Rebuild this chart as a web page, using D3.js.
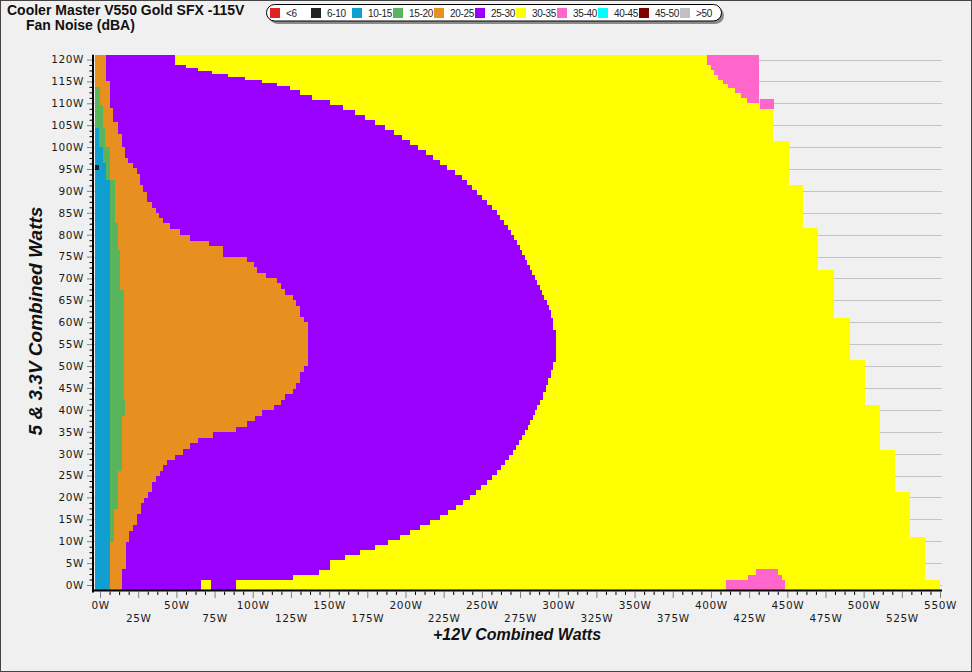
<!DOCTYPE html>
<html><head><meta charset="utf-8">
<script src="https://cdn.jsdelivr.net/npm/d3@7"></script>
<style>body{margin:0;background:#f0f0f0} svg{display:block}</style>
</head><body><svg id="c" width="972" height="672"></svg>
<script>
// ---- DATA (watts) ----
const legendLabels = ["<6","6-10","10-15","15-20","20-25","25-30","30-35","35-40","40-45","45-50",">50"];
const legendColors = ["#dd2323","#222222","#109fd0","#58b55c","#e8901f","#9900ff","#ffff00","#ff66cc","#00ffff","#800000","#c0c0c0"];
const xTicks = d3.range(0, 551, 25);
const yTicks = d3.range(0, 121, 5);
const xMinData = -3.3;
// [yLow, yHigh, xRight]  extent of 30-35 dBA region (outer edge of measured area)
const band3035 = [
[110.9,121.1,431.5],[101.3,110.9,440.6],[91.3,101.3,451.1],[81.5,91.3,460.3],[71.9,81.5,470.1],
[61.0,71.9,480.6],[51.3,61.0,491.1],[41.1,51.3,500.9],[30.8,41.1,510.7],[21.2,30.8,520.5],
[10.9,21.2,530.3],[1.1,10.9,540.2],[-1.14,1.1,550.0]];
// 25-30 dBA right boundary
const band2530 = [
[118.8,121.1,49.1],[118.1,118.8,56.3],[117.4,118.1,64.2],[116.7,117.4,73.3],[116.0,116.7,83.8],
[115.3,116.0,94.9],[114.6,115.3,106.1],[114.0,114.6,115.9],[113.0,114.0,124.4],[111.9,113.0,130.9],
[110.8,111.9,138.8],[109.6,110.8,150.6],[108.5,109.6,159.1],[107.3,108.5,167.0],[106.2,107.3,173.5],
[105.0,106.2,180.1],[103.9,105.0,186.6],[102.8,103.9,192.5],[101.6,102.8,197.7],[100.5,101.6,203.0],
[99.3,100.5,208.2],[98.2,99.3,213.4],[97.1,98.2,218.0],[95.9,97.1,222.6],[94.8,95.9,227.2],
[93.6,94.8,232.4],[92.5,93.6,237.0],[91.3,92.5,240.3],[90.2,91.3,243.6],[89.1,90.2,246.8],
[87.9,89.1,250.1],[86.8,87.9,253.4],[85.6,86.8,256.7],[84.5,85.6,259.9],[83.4,84.5,261.9],
[82.2,83.4,264.5],[81.1,82.2,267.1],[79.9,81.1,269.1],[78.8,79.9,271.1],[77.6,78.8,273.0],
[76.5,77.6,275.0],[75.4,76.5,276.3],[74.2,75.4,278.3],[73.1,74.2,279.6],[71.9,73.1,281.5],
[70.8,71.9,282.9],[69.6,70.8,284.8],[68.5,69.6,286.1],[67.4,68.5,288.1],[66.2,67.4,289.4],
[65.1,66.2,290.7],[63.9,65.1,292.7],[62.8,63.9,294.0],[61.0,62.8,295.3],[58.2,61.0,296.6],
[50.9,58.2,298.6],[49.1,50.9,296.6],[47.3,49.1,295.3],[45.7,47.3,293.3],[44.1,45.7,292.0],
[42.2,44.1,290.1],[41.1,42.2,288.1],[40.0,41.1,286.1],[38.8,40.0,284.8],[37.7,38.8,283.5],
[36.5,37.7,281.5],[35.4,36.5,280.2],[34.3,35.4,278.3],[33.1,34.3,276.3],[32.0,33.1,274.3],
[30.8,32.0,272.4],[29.7,30.8,270.4],[28.5,29.7,267.8],[27.4,28.5,265.2],[26.3,27.4,262.6],
[25.1,26.3,259.9],[24.0,25.1,256.7],[22.8,24.0,253.4],[21.7,22.8,249.5],[20.6,21.7,246.2],
[19.4,20.6,242.3],[18.3,19.4,237.7],[17.1,18.3,233.1],[16.0,17.1,227.9],[14.8,16.0,222.6],
[13.7,14.8,216.1],[12.6,13.7,209.5],[11.4,12.6,203.0],[10.3,11.4,196.4],[9.1,10.3,188.6],
[8.0,9.1,180.1],[6.9,8.0,170.2],[5.7,6.9,160.4],[3.4,5.7,150.6],[2.3,3.4,143.4],
[1.1,2.3,126.4],[-1.14,1.1,89.0]];
// 20-25 dBA right boundary
const band2025 = [
[115.1,121.1,3.7],[108.9,115.1,6.5],[105.8,108.9,8.7],[103.1,105.8,11.6],[100.1,103.1,14.2],
[97.4,100.1,16.4],[96.3,97.4,18.5],[95.2,96.3,21.4],[93.9,95.2,24.0],[91.3,93.9,26.2],
[89.8,91.3,28.4],[87.5,89.8,31.0],[86.0,87.5,33.9],[84.9,86.0,36.5],[83.7,84.9,38.8],
[82.6,83.7,41.1],[81.3,82.6,45.8],[79.9,81.3,52.4],[78.6,79.9,58.9],[77.4,78.6,71.4],
[75.0,77.4,80.5],[73.8,75.0,96.1],[72.7,73.8,100.8],[71.3,72.7,103.0],[70.0,71.3,108.7],
[68.9,70.0,115.7],[67.5,68.9,118.3],[66.2,67.5,121.1],[65.1,66.2,126.6],[63.7,65.1,128.3],
[61.1,63.7,130.9],[60.1,61.1,133.6],[49.9,60.1,136.0],[48.7,49.9,133.6],[46.1,48.7,130.9],
[44.7,46.1,128.3],[43.6,44.7,126.6],[42.2,43.6,121.1],[41.1,42.2,118.3],[40.0,41.1,113.9],
[38.7,40.0,105.9],[37.5,38.7,101.5],[36.1,37.5,96.1],[34.9,36.1,89.0],[33.5,34.9,73.8],
[32.4,33.5,64.4],[31.0,32.4,58.9],[29.8,31.0,54.1],[28.5,29.8,49.1],[27.4,28.5,44.1],
[26.1,27.4,41.4],[24.9,26.1,39.3],[23.6,24.9,36.7],[21.3,23.6,34.2],[19.8,21.3,31.6],
[18.7,19.8,29.0],[16.2,18.7,26.8],[13.7,16.2,24.0],[12.3,13.7,21.8],[9.9,12.3,19.0],
[3.6,9.9,16.8],[-1.14,3.6,14.2]];
// 15-20 dBA right boundary
const band1520 = [
[109.6,113.8,0.0],[104.3,109.6,2.2],[100.1,104.3,3.3],[92.5,100.1,6.5],[82.6,92.5,9.6],
[76.5,82.6,11.6],[67.4,76.5,13.1],[42.2,67.4,15.7],[38.6,42.2,16.4],[26.1,38.6,14.2],
[17.3,26.1,11.6],[9.9,17.3,9.2]];
// 10-15 dBA right boundary
const band1015 = [[100.1,104.3,-0.5],[96.4,100.1,2.2],[92.5,96.4,3.9],[-1.14,92.5,6.5]];
// isolated cells [yLow, yHigh, xLow, xHigh]
const cells610 = [[94.8,95.9,-3.3,-0.5]];
const cells3035 = [[-1.14,1.1,66.1,72.7]];
const cells3540 = [
[118.8,121.1,397.4,431.5],[117.6,118.8,400.1,431.5],[116.5,117.6,402.0,431.5],[115.3,116.5,404.6,431.5],
[114.4,115.3,408.0,431.5],[113.5,114.4,411.2,431.5],[112.3,113.5,415.8,431.5],[111.2,112.3,419.7,431.5],
[110.1,111.2,423.6,431.5],[108.6,110.9,432.1,441.3],
[-1.14,1.1,409.9,448.5],[1.1,2.3,424.5,446.3],[2.3,3.6,429.5,443.7]];

// ---- DRAW ----
const svg = d3.select("#c");
svg.append("rect").attr("width",972).attr("height",672).attr("fill","#f0f0f0");
const x = d3.scaleLinear().domain([-4.4, 551.3]).range([93.3, 942]);
const y = d3.scaleLinear().domain([-1.14, 121.1]).range([590, 54.7]);
const R = Math.round;

// gridlines
svg.append("g").selectAll("line").data(yTicks).join("line")
  .attr("x1", x(-4.4)).attr("x2", x(551.3))
  .attr("y1", d => R(y(d)) + 0.5).attr("y2", d => R(y(d)) + 0.5)
  .attr("stroke", "#c3c3c3").attr("stroke-width", 1);

const plot = svg.append("g");
function band(steps, color) {
  plot.append("g").selectAll("rect").data(steps).join("rect")
    .attr("x", R(x(xMinData)))
    .attr("y", d => R(y(d[1])))
    .attr("width", d => R(x(d[2])) - R(x(xMinData)))
    .attr("height", d => R(y(d[0])) - R(y(d[1])))
    .attr("fill", color);
}
function cells(list, color) {
  plot.append("g").selectAll("rect").data(list).join("rect")
    .attr("x", d => R(x(d[2])))
    .attr("y", d => R(y(d[1])))
    .attr("width", d => R(x(d[3])) - R(x(d[2])))
    .attr("height", d => R(y(d[0])) - R(y(d[1])))
    .attr("fill", color);
}
band(band3035, legendColors[6]);
band(band2530, legendColors[5]);
band(band2025, legendColors[4]);
band(band1520, legendColors[3]);
band(band1015, legendColors[2]);
cells(cells3035, legendColors[6]);
cells(cells3540, legendColors[7]);
cells(cells610, legendColors[1]);

// axes
const fontAx = "'DejaVu Sans', Verdana, sans-serif";
const gY = svg.append("g").attr("transform", "translate(92,0)");
gY.call(d3.axisLeft(y).tickValues(yTicks).tickFormat(d => d + "W").tickSize(5).tickPadding(3));
gY.append("g").call(d3.axisLeft(y).tickValues(d3.range(0, 121, 1.25).filter(v => v % 5 !== 0)).tickSize(2.5).tickFormat(""));
gY.selectAll(".domain").remove();
gY.selectAll(":scope > .tick line").attr("stroke", "#808080");
gY.selectAll("g g .tick line").attr("stroke", "#000");
gY.selectAll("text").attr("font-family", fontAx).attr("font-size", 10.5).attr("fill", "#1a1a1a").attr("letter-spacing", 0.6);

const gX = svg.append("g").attr("transform", "translate(0,591.5)");
gX.call(d3.axisBottom(x).tickValues(xTicks).tickFormat(d => d + "W").tickSize(6.5).tickPadding(3.5));
gX.append("g").call(d3.axisBottom(x).tickValues(d3.range(0, 551, 6.25).filter(v => v % 25 !== 0)).tickSize(3.5).tickFormat(""));
gX.selectAll(".domain").remove();
gX.selectAll(":scope > .tick line").attr("stroke", "#808080");
gX.selectAll("g g .tick line").attr("stroke", "#000");
gX.selectAll(":scope > .tick text").attr("font-family", fontAx).attr("font-size", 10.5).attr("fill", "#1a1a1a").attr("letter-spacing", 0.6)
  .attr("y", (d, i) => i % 2 ? 23.5 : 10);

// axis lines
svg.append("line").attr("x1", 93).attr("x2", 93).attr("y1", 54.7).attr("y2", 592.5).attr("stroke", "#000").attr("stroke-width", 2);
svg.append("line").attr("x1", 92).attr("x2", 942).attr("y1", 590.5).attr("y2", 590.5).attr("stroke", "#000").attr("stroke-width", 2);

// titles
const fontT = "'Liberation Sans', Arial, sans-serif";
svg.append("text").attr("x", 7).attr("y", 15).text("Cooler Master V550 Gold SFX -115V")
  .attr("font-family", fontT).attr("font-weight", "bold").attr("font-size", 14).attr("fill", "#111");
svg.append("text").attr("x", 26).attr("y", 30).text("Fan Noise (dBA)")
  .attr("font-family", fontT).attr("font-weight", "bold").attr("font-size", 14).attr("fill", "#111");
svg.append("text").attr("x", 517).attr("y", 640).attr("text-anchor", "middle").text("+12V Combined Watts")
  .attr("font-family", fontT).attr("font-weight", "bold").attr("font-style", "italic").attr("font-size", 16).attr("fill", "#111");
svg.append("text").attr("transform", "translate(42,321) rotate(-90)").attr("text-anchor", "middle").text("5 & 3.3V Combined Watts")
  .attr("font-family", fontT).attr("font-weight", "bold").attr("font-style", "italic").attr("font-size", 19).attr("fill", "#111");

// legend
const lg = svg.append("g");
lg.append("rect").attr("x", 269).attr("y", 7).attr("width", 455).attr("height", 17).attr("rx", 8.5).attr("fill", "#8a8a8a");
lg.append("rect").attr("x", 266.5).attr("y", 4.5).attr("width", 455).attr("height", 16.5).attr("rx", 8.2).attr("fill", "#fff").attr("stroke", "#000").attr("stroke-width", 1);
const li = lg.selectAll("g.it").data(legendLabels).join("g").attr("class", "it")
  .attr("transform", (d, i) => `translate(${270 + i * 41},0)`);
li.append("rect").attr("x", 0).attr("y", 8).attr("width", 10).attr("height", 10).attr("fill", (d, i) => legendColors[i]);
li.append("text").attr("x", 16).attr("y", 17).text(d => d)
  .attr("font-family", fontT).attr("font-size", 10).attr("fill", "#222").attr("letter-spacing", -0.3);

// border
svg.append("rect").attr("x", 0.5).attr("y", 0.5).attr("width", 971).attr("height", 671).attr("fill", "none").attr("stroke", "#444");
</script></body></html>
